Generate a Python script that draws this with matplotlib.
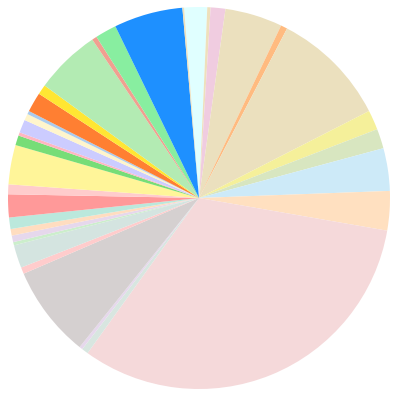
import matplotlib
matplotlib.use("Agg")
import matplotlib.pyplot as plt

sizes = [7, 1, 4.5, 17.5, 2, 35.5, 6, 6, 13, 12, 116, 2, 1, 28, 2, 7, 1, 2, 2, 3.5,
         7, 3, 12, 3, 1, 4, 2, 1, 6, 3, 20, 1.5, 6.5, 21, 0.5]
colors = ["#E0FFFF", "#EEE0BC", "#F0CCE0", "#EBE0BE", "#FFBB80", "#EBE0BE", "#F5F09A",
          "#D8E6C0", "#CDEAF8", "#FFE0C0", "#F5D9DA", "#D8E6E0", "#E6D8EC", "#D5D0D0",
          "#FFCCCC", "#D4E4E0", "#CCEECC", "#E6D8EC", "#FFDDC0", "#BBE8DC", "#FF9999",
          "#FFCCCC", "#FFF599", "#77DD77", "#FFB6C1", "#CCCCFF", "#FFF5CC", "#AACCEE",
          "#FF7F32", "#FFE633", "#B3EBB3", "#F0A090", "#88EEA0", "#1E90FF", "#EEE0BC"]

fig = plt.figure(figsize=(4, 4), dpi=100)
ax = fig.add_axes([8 / 400, 11 / 400, 382 / 400, 382 / 400])
ax.pie(sizes, colors=colors, startangle=94.5, counterclock=False,
       wedgeprops=dict(linewidth=0), radius=1)
ax.set_xlim(-1, 1)
ax.set_ylim(-1, 1)
ax.set_aspect("equal")
ax.axis("off")
fig.savefig("out.png", dpi=100)
